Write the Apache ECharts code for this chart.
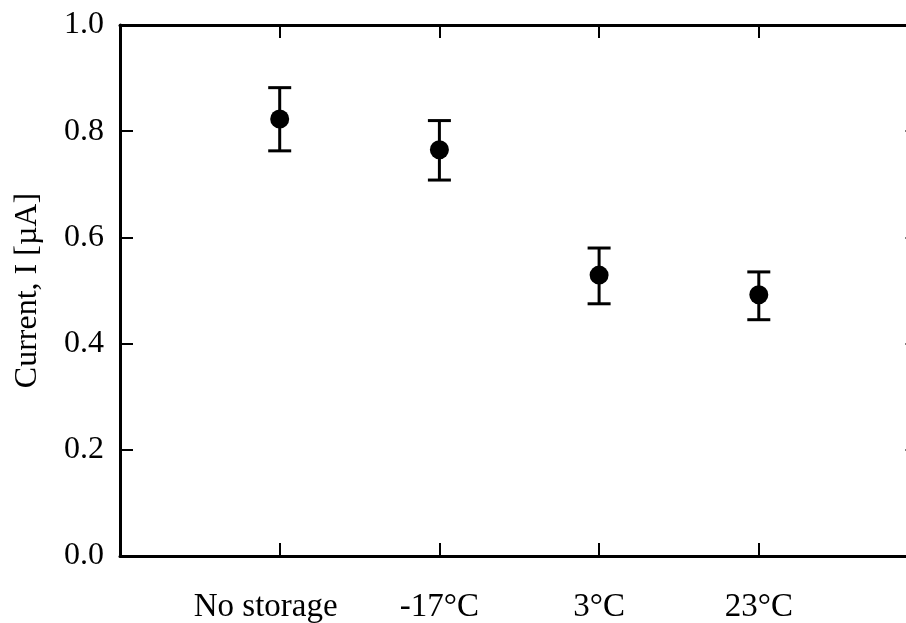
<!DOCTYPE html>
<html lang="en">
<head>
    <meta charset="UTF-8">
    <style>
    html, body { height: 100%; margin: 0; background: #fff; }
    </style>
</head>
<body>
<div id="chart" style="width:906px;height:623px;"></div>
<script src="https://cdn.jsdelivr.net/npm/echarts@6/dist/echarts.min.js"></script>
<script>
    // storage conditions and measured current (µA)
    var categories = ['No storage', '-17°C', '3°C', '23°C'];
    var current = [0.823, 0.765, 0.529, 0.492];
    var errLow = [0.763, 0.708, 0.475, 0.445];
    var errHigh = [0.882, 0.820, 0.580, 0.535];
    var yTicks = [0, 0.2, 0.4, 0.6, 0.8, 1.0];

    var font = 'Liberation Serif';
    var myChart = echarts.init(document.getElementById('chart'));

    var points = current.map((v, i) => [i + 1, v]);
    var bars = current.map((v, i) => [i + 1, errLow[i], errHigh[i]]);

    function tick() {
        return { show: true, inside: true, length: 13, lineStyle: { color: '#000', width: 2 } };
    }
    function axLine() {
        return { show: true, onZero: false, lineStyle: { color: '#000', width: 3 } };
    }

    myChart.setOption({
        animation: false,
        grid: { left: 120, top: 25, bottom: 67, right: -12.5, outerBoundsMode: 'none', containLabel: false },
        xAxis: [{
            type: 'value', position: 'bottom', min: 0, max: 5, interval: 1,
            axisLine: axLine(), axisTick: tick(), splitLine: { show: false },
            axisLabel: {
                margin: 35, fontFamily: font, fontSize: 33, color: '#000',
                formatter: v => v === 1 ? '{first|' + categories[0] + '}' : (categories[v - 1] || ''),
                rich: { first: { fontFamily: font, fontSize: 33, color: '#000', padding: [0, 28, 0, 0] } }
            }
        }, {
            type: 'value', position: 'top', min: 0, max: 5, interval: 1,
            axisLine: axLine(), axisTick: tick(), splitLine: { show: false },
            axisLabel: { show: false }
        }],
        yAxis: [{
            type: 'value', position: 'left', min: yTicks[0], max: yTicks[yTicks.length - 1], interval: 0.2,
            name: 'Current, I [µA]', nameLocation: 'middle', nameGap: 76,
            nameTextStyle: { fontFamily: font, fontSize: 32, color: '#000' },
            axisLine: axLine(), axisTick: tick(), splitLine: { show: false },
            axisLabel: {
                margin: 16, fontFamily: font, fontSize: 32, color: '#000',
                formatter: v => v.toFixed(1)
            }
        }, {
            type: 'value', position: 'right', min: 0, max: 1, interval: 0.2,
            axisLine: axLine(), axisTick: tick(), splitLine: { show: false },
            axisLabel: { show: false }
        }],
        series: [{
            type: 'custom',
            data: bars,
            z: 2,
            renderItem: function (params, api) {
                var x = api.value(0);
                var lo = api.coord([x, api.value(1)]);
                var hi = api.coord([x, api.value(2)]);
                var half = 11.5;
                var style = { stroke: '#000', lineWidth: 3 };
                return {
                    type: 'group',
                    children: [
                        { type: 'line', shape: { x1: lo[0], y1: lo[1], x2: hi[0], y2: hi[1] }, style: style },
                        { type: 'line', shape: { x1: lo[0] - half, y1: lo[1], x2: lo[0] + half, y2: lo[1] }, style: style },
                        { type: 'line', shape: { x1: hi[0] - half, y1: hi[1], x2: hi[0] + half, y2: hi[1] }, style: style }
                    ]
                };
            }
        }, {
            type: 'scatter',
            data: points,
            symbol: 'circle',
            symbolSize: 19,
            z: 3,
            itemStyle: { color: '#000', opacity: 1 }
        }]
    });
</script>
</body>
</html>
